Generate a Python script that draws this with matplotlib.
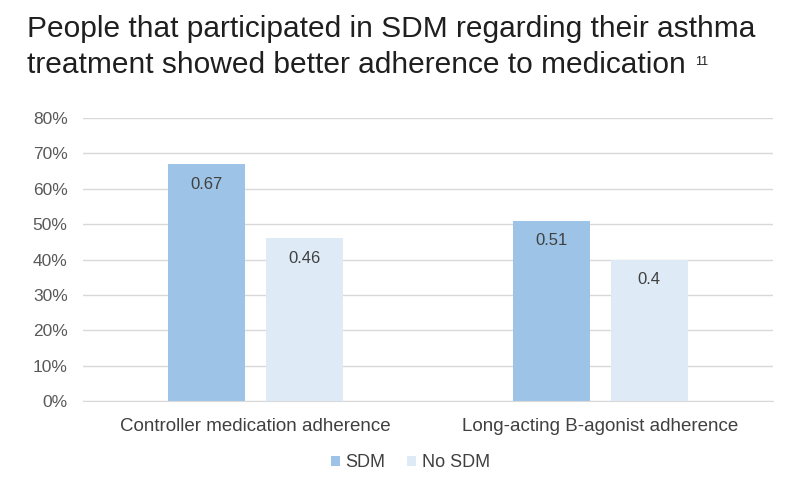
import numpy as np
import matplotlib.pyplot as plt

plt.rcParams['font.family'] = ['Liberation Sans', 'DejaVu Sans']

categories = ['Controller medication adherence', 'Long-acting B-agonist adherence']
sdm = [0.67, 0.51]
no_sdm = [0.46, 0.4]
labels_sdm = ['0.67', '0.51']
labels_no = ['0.46', '0.4']

fig = plt.figure(figsize=(8.05, 4.92), dpi=100)
ax = fig.add_axes([0.103, 0.185, 0.857, 0.575])

x = np.arange(len(categories))
w = 0.223
off = 0.142
b1 = ax.bar(x - off, sdm, w, color='#9DC3E6', label='SDM', zorder=2)
b2 = ax.bar(x + off, no_sdm, w, color='#DEEBF7', label='No SDM', zorder=2)

for rect, t in zip(list(b1) + list(b2), labels_sdm + labels_no):
    ax.annotate(t, (rect.get_x() + rect.get_width() / 2, rect.get_height()),
                xytext=(0, -20), textcoords='offset pixels',
                ha='center', va='center', fontsize=12, color='#404040')

ax.set_xlim(-0.5, 1.5)
ax.set_ylim(0, 0.8)
ax.set_yticks(np.arange(0, 0.81, 0.1))
ax.set_yticklabels(['%d%%' % round(v * 100) for v in np.arange(0, 0.81, 0.1)])
ax.set_xticks(x)
ax.set_xticklabels(categories)
ax.grid(axis='y', color='#D9D9D9', linewidth=1, zorder=0)
for s in ['top', 'right', 'left']:
    ax.spines[s].set_visible(False)
ax.spines['bottom'].set_color('#D9D9D9')
ax.tick_params(axis='both', length=0, colors='#595959', labelsize=12.5)
ax.tick_params(axis='y', pad=11)
ax.tick_params(axis='x', labelsize=13.5, colors='#404040', pad=12)

t1 = fig.text(0.033, 0.925, 'People that participated in SDM regarding their asthma',
              fontsize=21.5, color='#1F1F1F', va='baseline', ha='left')
t2 = fig.text(0.033, 0.852, 'treatment showed better adherence to medication',
              fontsize=21.5, color='#1F1F1F', va='baseline', ha='left')
r = fig.canvas.get_renderer()
bb = t2.get_window_extent(renderer=r)
fig.text(bb.x1 / fig.bbox.width + 0.012, 0.868, '11', fontsize=9,
         color='#1F1F1F', va='baseline', ha='left')

fig.legend(loc='center', bbox_to_anchor=(0.51, 0.059), ncol=2, frameon=False,
           fontsize=13, handlelength=0.5, handleheight=0.5, handletextpad=0.3,
           columnspacing=1.2, labelcolor='#404040')

plt.savefig('out.png', dpi=100)
